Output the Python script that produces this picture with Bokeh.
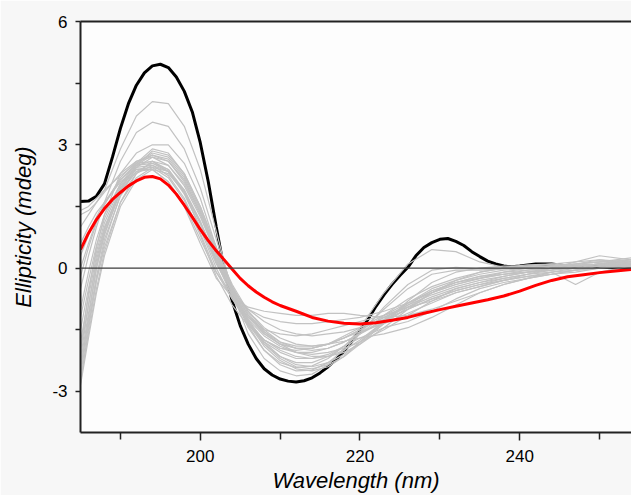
from bokeh.plotting import figure
from bokeh.models import FixedTicker, LinearAxis, Span, Range1d
from bokeh.embed import file_html
from bokeh.resources import INLINE

# ---------------- data ----------------
wl_grey = [185, 186, 187, 188, 190, 192, 194, 196, 198, 200, 202, 204, 206, 208, 210,
           212, 214, 216, 218, 220, 223, 226, 229, 232, 235, 238, 241, 244, 247, 250, 254]

grey_01 = [1.3, 1.4, 1.6, 1.9, 2.9, 3.7, 4.05, 4.0, 3.45, 2.4, 0.9, -0.6, -1.6, -2.2, -2.5, -2.62, -2.58, -2.35, -1.95, -1.45, -0.6, 0.1, 0.45, 0.4, 0.15, 0.02, 0.08, 0.1, 0.05, 0.05, 0.02]
grey_02 = [-0.5, 0.3, 1.0, 1.6, 2.6, 3.3, 3.55, 3.45, 2.9, 1.95, 0.7, -0.5, -1.4, -2.0, -2.35, -2.5, -2.48, -2.3, -2.0, -1.6, -0.95, -0.4, -0.05, 0.02, -0.02, 0.0, 0.02, 0.05, 0.08, 0.1, 0.05]
grey_03 = [-2.0, -0.6, 0.5, 1.3, 2.3, 2.8, 3.0, 3.0, 2.55, 1.7, 0.5, -0.6, -1.45, -2.0, -2.3, -2.42, -2.38, -2.2, -1.9, -1.55, -1.0, -0.5, -0.15, -0.05, -0.05, -0.02, 0.0, 0.05, 0.1, 0.15, 0.1]
grey_04 = [1.0, 1.3, 1.6, 1.85, 2.3, 2.6, 2.75, 2.6, 2.1, 1.35, 0.45, -0.4, -1.05, -1.5, -1.8, -1.95, -2.0, -1.95, -1.8, -1.6, -1.25, -0.85, -0.55, -0.35, -0.25, -0.15, -0.1, -0.05, 0.05, 0.1, 0.1]
grey_05 = [-2.8, -1.5, -0.3, 0.6, 1.8, 2.45, 2.7, 2.6, 2.15, 1.35, 0.35, -0.6, -1.35, -1.9, -2.25, -2.45, -2.5, -2.4, -2.15, -1.8, -1.3, -0.85, -0.5, -0.3, -0.15, -0.05, 0.0, 0.05, 0.0, 0.05, 0.1]
grey_06 = [-2.5, -1.2, 0.0, 0.8, 1.9, 2.5, 2.85, 2.75, 2.3, 1.5, 0.5, -0.5, -1.3, -1.85, -2.15, -2.3, -2.3, -2.15, -1.9, -1.6, -1.15, -0.75, -0.45, -0.25, -0.1, 0.0, 0.05, 0.1, 0.15, 0.2, 0.15]
grey_07 = [-1.5, -0.5, 0.4, 1.1, 2.0, 2.5, 2.6, 2.4, 1.85, 0.95, 0.0, -0.75, -1.35, -1.75, -1.95, -2.05, -2.05, -1.95, -1.8, -1.6, -1.3, -1.0, -0.75, -0.55, -0.4, -0.3, -0.2, -0.1, -0.05, 0.0, 0.05]
grey_08 = [0.3, 0.8, 1.25, 1.6, 2.15, 2.5, 2.55, 2.35, 1.85, 1.1, 0.25, -0.5, -1.05, -1.45, -1.7, -1.85, -1.9, -1.85, -1.7, -1.5, -1.2, -0.9, -0.65, -0.45, -0.3, -0.2, -0.1, 0.0, 0.05, 0.1, 0.15]
grey_09 = [-2.2, -0.9, 0.2, 0.95, 1.95, 2.4, 2.45, 2.2, 1.65, 0.8, -0.2, -0.9, -1.4, -1.75, -1.95, -2.0, -1.95, -1.85, -1.7, -1.55, -1.35, -1.1, -0.85, -0.6, -0.45, -0.3, -0.2, -0.15, -0.1, 0.0, 0.05]
grey_10 = [1.4, 1.5, 1.7, 1.9, 2.25, 2.55, 2.6, 2.35, 1.8, 1.0, 0.1, -0.55, -1.0, -1.3, -1.5, -1.6, -1.65, -1.6, -1.55, -1.45, -1.25, -1.0, -0.75, -0.55, -0.4, -0.25, -0.15, -0.05, 0.05, 0.1, 0.2]
grey_11 = [-2.6, -1.4, -0.3, 0.5, 1.6, 2.2, 2.45, 2.35, 1.9, 1.15, 0.2, -0.6, -1.2, -1.6, -1.85, -1.95, -1.95, -1.85, -1.7, -1.5, -1.2, -0.95, -0.7, -0.5, -0.35, -0.25, -0.15, -0.1, -0.4, -0.1, 0.05]
grey_12 = [-1.0, -0.1, 0.7, 1.3, 2.05, 2.45, 2.5, 2.25, 1.7, 0.85, -0.1, -0.75, -1.2, -1.5, -1.6, -1.65, -1.6, -1.5, -1.4, -1.3, -1.15, -0.95, -0.8, -0.6, -0.45, -0.3, -0.15, 0.0, 0.15, 0.3, 0.2]
grey_13 = [0.6, 1.0, 1.35, 1.6, 2.1, 2.4, 2.4, 2.1, 1.55, 0.7, -0.1, -0.65, -1.0, -1.2, -1.3, -1.35, -1.35, -1.3, -1.25, -1.2, -1.05, -0.85, -0.6, -0.4, -0.25, -0.1, 0.0, 0.05, 0.1, 0.15, 0.25]
grey_14 = [-1.8, -0.7, 0.3, 1.0, 1.9, 2.35, 2.4, 2.1, 1.5, 0.6, -0.25, -0.7, -0.95, -1.05, -1.1, -1.15, -1.15, -1.1, -1.1, -1.15, -1.2, -1.15, -1.0, -0.8, -0.6, -0.4, -0.25, -0.1, 0.0, 0.1, 0.15]
grey_15 = [-2.85, -1.7, -0.6, 0.3, 1.5, 2.15, 2.4, 2.3, 1.85, 1.1, 0.15, -0.7, -1.35, -1.8, -2.05, -2.2, -2.2, -2.1, -1.9, -1.7, -1.45, -1.3, -1.05, -0.75, -0.5, -0.35, -0.25, -0.15, -0.05, 0.05, 0.1]
grey_16 = [-2.4, -1.3, -0.2, 0.7, 1.75, 2.3, 2.5, 2.35, 1.85, 1.1, 0.2, -0.55, -1.15, -1.55, -1.8, -1.9, -1.9, -1.85, -1.78, -1.7, -1.6, -1.45, -1.2, -0.9, -0.6, -0.4, -0.25, -0.15, -0.05, 0.0, 0.1]
grey_17 = [-0.2, 0.5, 1.1, 1.55, 2.2, 2.6, 2.7, 2.5, 2.0, 1.25, 0.35, -0.45, -1.1, -1.55, -1.85, -2.05, -2.15, -2.15, -2.05, -1.85, -1.45, -1.0, -0.6, -0.3, -0.1, 0.0, 0.05, 0.05, 0.1, 0.15, 0.2]
grey_18 = [-1.2, -0.3, 0.55, 1.2, 2.05, 2.55, 2.8, 2.7, 2.25, 1.45, 0.4, -0.55, -1.3, -1.85, -2.2, -2.4, -2.45, -2.35, -2.15, -1.85, -1.35, -0.8, -0.35, -0.1, 0.0, 0.05, 0.05, 0.1, 0.05, 0.1, 0.15]
grey_19 = [-2.7, -1.6, -0.5, 0.4, 1.6, 2.3, 2.6, 2.5, 2.05, 1.3, 0.3, -0.6, -1.3, -1.75, -2.0, -2.15, -2.2, -2.15, -2.0, -1.75, -1.3, -0.9, -0.55, -0.35, -0.2, -0.15, -0.1, 0.0, 0.1, 0.2, 0.1]
grey_20 = [0.0, 0.6, 1.15, 1.55, 2.15, 2.55, 2.9, 2.8, 2.3, 1.5, 0.5, -0.45, -1.15, -1.6, -1.85, -1.95, -1.95, -1.85, -1.65, -1.45, -1.15, -0.85, -0.6, -0.4, -0.25, -0.15, -0.05, 0.0, 0.05, 0.1, 0.1]
grey_21 = [-2.3, -1.1, 0.0, 0.85, 1.85, 2.35, 2.55, 2.4, 1.9, 1.1, 0.15, -0.65, -1.25, -1.65, -1.9, -2.05, -2.1, -2.05, -1.95, -1.8, -1.5, -1.15, -0.8, -0.5, -0.35, -0.2, -0.1, -0.05, 0.0, 0.05, 0.1]
grey_22 = [-2.0, -0.9, 0.1, 0.9, 1.95, 2.5, 2.75, 2.65, 2.2, 1.4, 0.4, -0.5, -1.25, -1.8, -2.15, -2.35, -2.4, -2.3, -2.1, -1.8, -1.35, -0.95, -0.6, -0.35, -0.2, -0.1, -0.05, 0.0, 0.05, 0.1, 0.05]

grey_series = [grey_01, grey_02, grey_03, grey_04, grey_05, grey_06, grey_07, grey_08,
               grey_09, grey_10, grey_11, grey_12, grey_13, grey_14, grey_15, grey_16,
               grey_17, grey_18, grey_19, grey_20, grey_21, grey_22]

wl_black = [185, 186, 187, 188, 189, 190, 191, 192, 193, 194, 195, 196, 197, 198, 199, 200,
            201, 202, 203, 204, 205, 206, 207, 208, 209, 210, 211, 212, 213, 214, 215, 216,
            217, 218, 219, 220, 221, 222, 223, 224, 225, 226, 227, 228, 229, 230, 231, 232,
            233, 234, 235, 236, 237, 238, 239, 240, 242, 244, 246, 248, 250, 252, 254]
black = [1.62, 1.63, 1.75, 2.05, 2.7, 3.4, 4.0, 4.45, 4.75, 4.92, 4.96, 4.88, 4.65, 4.3, 3.8, 3.05,
         2.1, 1.0, -0.05, -0.8, -1.4, -1.85, -2.2, -2.45, -2.6, -2.7, -2.75, -2.77, -2.74, -2.67, -2.55, -2.4,
         -2.22, -2.02, -1.78, -1.53, -1.25, -0.93, -0.65, -0.4, -0.18, 0.02, 0.3, 0.5, 0.62, 0.7, 0.72, 0.65,
         0.55, 0.4, 0.28, 0.17, 0.1, 0.05, 0.03, 0.05, 0.1, 0.1, 0.05, 0.03, 0.02, 0.01, 0.0]

wl_red = [185, 186, 187, 188, 189, 190, 191, 192, 193, 194, 195, 196, 197, 198, 199, 200,
          201, 202, 203, 204, 205, 206, 207, 208, 209, 210, 212, 214, 216, 218, 220, 222,
          224, 226, 228, 230, 232, 234, 236, 238, 240, 242, 244, 246, 248, 250, 252, 254]
red = [0.45, 0.85, 1.18, 1.45, 1.67, 1.84, 2.0, 2.12, 2.21, 2.23, 2.17, 2.02, 1.8, 1.53, 1.24, 0.94,
       0.67, 0.42, 0.2, -0.03, -0.25, -0.43, -0.58, -0.71, -0.82, -0.91, -1.05, -1.2, -1.29, -1.34, -1.36, -1.33,
       -1.27, -1.2, -1.1, -1.01, -0.93, -0.85, -0.77, -0.68, -0.56, -0.42, -0.3, -0.21, -0.16, -0.11, -0.07, -0.03]

x_major = [200, 220, 240]
x_minor = [190, 210, 230, 250]
y_major = [-3, 0, 3, 6]
y_minor = [-1.5, 1.5, 4.5]
y_labels = {-3: "-3", 0: "0", 3: "3", 6: "6"}

# ---------------- figure ----------------
FONT = "Liberation Sans"
p = figure(width=631, height=495, output_backend="svg", toolbar_location=None,
           x_range=Range1d(185, 254), y_range=Range1d(-4, 6),
           min_border_left=80, min_border_right=0, min_border_top=21, min_border_bottom=62)
p.background_fill_color = "#fdfdfd"
p.border_fill_color = "#f7f7f7"
p.outline_line_color = None
p.xgrid.visible = False
p.ygrid.visible = False

# zero line
p.add_layout(Span(location=0, dimension="width", line_color="#3a3a3a", line_width=1.4))

p.line(wl_black, black, line_color="#000000", line_width=3)
for s in grey_series:
    p.line(wl_grey, s, line_color="#c2c2c2", line_width=1.2)
p.line(wl_red, red, line_color="#ff0000", line_width=3)

for ax in (p.xaxis[0], p.yaxis[0]):
    ax.axis_line_color = "#222222"
    ax.axis_line_width = 2
    ax.major_tick_line_color = "#222222"
    ax.minor_tick_line_color = "#222222"
    ax.major_tick_line_width = 1.5
    ax.minor_tick_line_width = 1.5
    ax.major_tick_in = 0
    ax.minor_tick_in = 0
    ax.major_label_text_font = FONT
    ax.major_label_text_font_size = "17px"
    ax.major_label_text_color = "#000000"
    ax.axis_label_text_font = FONT
    ax.axis_label_text_font_style = "italic"
    ax.axis_label_text_font_size = "22px"
    ax.axis_label_text_color = "#000000"

p.xaxis[0].ticker = FixedTicker(ticks=x_major, minor_ticks=x_minor)
p.yaxis[0].ticker = FixedTicker(ticks=y_major, minor_ticks=y_minor)
p.yaxis[0].major_label_overrides = y_labels
p.xaxis[0].major_tick_out = 8
p.xaxis[0].minor_tick_out = 7
p.yaxis[0].major_tick_out = 5
p.yaxis[0].minor_tick_out = 5
p.xaxis[0].major_label_standoff = 9
p.yaxis[0].major_label_standoff = 8
p.xaxis[0].axis_label = "Wavelength (nm)"
p.yaxis[0].axis_label = "Ellipticity (mdeg)"
p.xaxis[0].axis_label_standoff = 3
p.yaxis[0].axis_label_standoff = 13

top = LinearAxis(ticker=FixedTicker(ticks=[]), axis_line_color="#222222", axis_line_width=2,
                 major_tick_out=0, minor_tick_out=0, major_label_text_font_size="0px")
p.add_layout(top, "above")

open("out.html", "w").write(file_html(p, INLINE))
